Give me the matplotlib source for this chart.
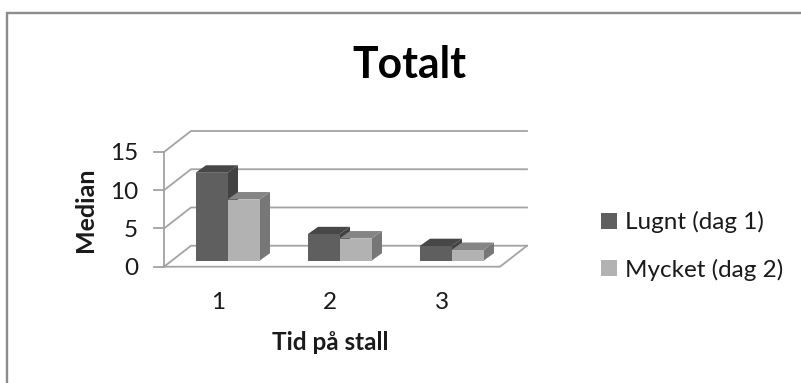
import matplotlib
matplotlib.use("Agg")
import matplotlib.pyplot as plt
from matplotlib.lines import Line2D
from matplotlib.patches import Patch, Polygon, Rectangle

W, H = 801, 383

categories = ["1", "2", "3"]
series_names = ["Lugnt (dag 1)", "Mycket (dag 2)"]
lugnt = [11.5, 3.45, 1.9]
mycket = [8.0, 2.9, 1.4]
y_ticks = [0, 5, 10, 15]

# Front, top and side shades of each 3D column series
shades = [("#5f5f5f", "#474747", "#424242"), ("#b2b2b2", "#858585", "#777777")]
GRID = "#a3a3a3"
TEXT = "#1a1a1a"
FONT = "Lato"

# Depth of the chart floor and of the columns, in data units
WALL_DX, WALL_DY = 27 / 112, 21 / 7.65
BAR_DX, BAR_DY = 10.5 / 112, 7.5 / 7.65
BASE_DX, BASE_DY = 7.5 / 112, 6 / 7.65
BAR_W = 32 / 112

fig = plt.figure(figsize=(W / 100, H / 100), dpi=100, facecolor="white")
ax = fig.add_axes([164 / W, 1 - 266.7 / H, 336 / W, 114.7 / H])
ax.set_xlim(0, 3)
ax.set_ylim(0, 15)
ax.axis("off")

# Outer frame: only the top and left edges are visible
fig.add_artist(Line2D([6.5 / W, 6.5 / W, 1], [0, 1 - 12.5 / H, 1 - 12.5 / H], transform=fig.transFigure,
                      color="#8c8c8c", lw=1.7, solid_joinstyle="miter"))

# Walls: gridlines run up the side wall and along the back wall
for t in y_ticks:
    ax.plot([0, WALL_DX, 3 + WALL_DX], [t, t + WALL_DY, t + WALL_DY],
            color=GRID, lw=1.3, clip_on=False, solid_joinstyle="miter", zorder=1)
    ax.plot([-10 / 112, 0], [t, t], color=GRID, lw=1.3, clip_on=False, zorder=1)
    ax.text(-26 / 112, t - 0.25, str(t), ha="right", va="center", fontsize=17.5,
            family=FONT, color=TEXT)
ax.plot([0, 0], [0, 15], color=GRID, lw=1.3, clip_on=False, zorder=1)
ax.plot([0, 3, 3 + WALL_DX], [0, 0, WALL_DY], color=GRID, lw=1.3, clip_on=False, zorder=1)

# Columns, drawn left to right so each side face sits behind its neighbour
for i, name in enumerate(categories):
    centre = i + 0.5 + BASE_DX
    for j, values in enumerate((lugnt, mycket)):
        v = values[i]
        x0 = centre + (j - 1) * BAR_W
        x1 = x0 + BAR_W
        y0 = BASE_DY
        y1 = v + BASE_DY
        front, top, side = shades[j]
        z = 3 + j
        ax.add_patch(Polygon([(x1, y0), (x1 + BAR_DX, y0 + BAR_DY), (x1 + BAR_DX, y1 + BAR_DY), (x1, y1)],
                             facecolor=side, edgecolor="none", clip_on=False, zorder=z))
        ax.add_patch(Polygon([(x0, y1), (x1, y1), (x1 + BAR_DX, y1 + BAR_DY), (x0 + BAR_DX, y1 + BAR_DY)],
                             facecolor=top, edgecolor="none", clip_on=False, zorder=z))
        ax.add_patch(Rectangle((x0, y0), BAR_W, v, facecolor=front, edgecolor="none",
                               clip_on=False, zorder=z))
    ax.text(i + 0.5 - 2 / 112, -4.7, name, ha="center", va="center", fontsize=17.5,
            family=FONT, color=TEXT)

fig.text(409.5 / W, 1 - 64.5 / H, "Totalt", ha="center", va="center", fontsize=30.8,
         family=FONT, fontweight="bold", color="black")
fig.text(85.5 / W, 1 - 209.5 / H, "Median", ha="center", va="center", rotation=90, fontsize=18,
         family=FONT, fontweight="bold", color=TEXT)
fig.text(330.5 / W, 1 - 343 / H, "Tid på stall", ha="center", va="center", fontsize=17.5,
         family=FONT, fontweight="bold", color=TEXT)

handles = [Patch(facecolor=shades[k][0], edgecolor="none", label=series_names[k]) for k in range(2)]
fig.legend(handles=handles, loc="center left", bbox_to_anchor=(601 / W, 1 - 246 / H), frameon=False,
           prop={"family": FONT, "size": 17.5}, labelcolor=TEXT, handlelength=0.64, handleheight=0.64,
           handletextpad=0.33, labelspacing=1.05, borderpad=0, borderaxespad=0)

fig.savefig("out.png", dpi=100, facecolor="white")
